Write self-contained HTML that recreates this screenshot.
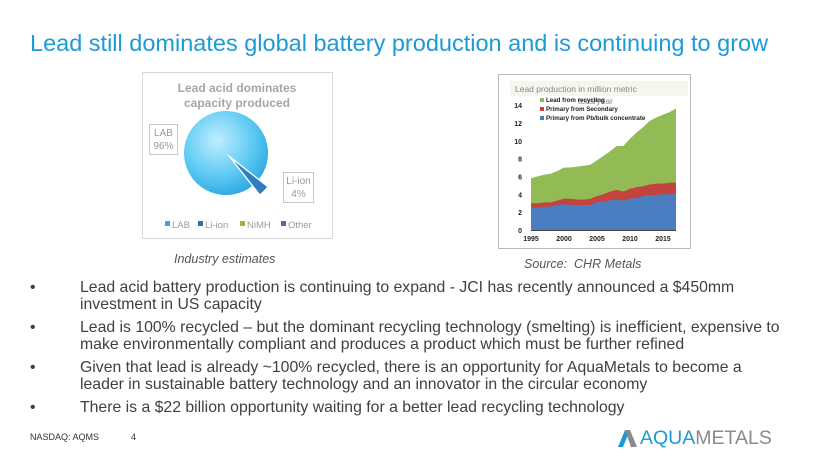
<!DOCTYPE html>
<html><head><meta charset="utf-8"><style>
body{margin:0;width:820px;height:460px;background:#fff;font-family:"Liberation Sans",sans-serif;position:relative;overflow:hidden}
.t{position:absolute;white-space:nowrap}
.b{position:absolute;left:30px;font-size:15.8px;color:#404040;line-height:17px;width:750px}
.b span{position:absolute;left:0}
.b div{margin-left:50px}
</style></head><body>
<div class="t" style="left:30px;top:30px;font-size:23.5px;color:#1c9ad6">Lead still dominates global battery production and is continuing to grow</div>

<svg style="position:absolute;left:0;top:0" width="820" height="460">
 <defs>
  <radialGradient id="pg" cx="0.4" cy="0.35" r="0.7"><stop offset="0" stop-color="#bfeeff"/><stop offset="0.6" stop-color="#5fcaf4"/><stop offset="1" stop-color="#2aa6e0"/></radialGradient>
 </defs>
 <rect x="142.5" y="72.5" width="190" height="166" fill="#fff" stroke="#d8d8d8"/>
 <text x="237" y="92" font-size="12" font-weight="bold" fill="#a6a6a6" text-anchor="middle">Lead acid dominates</text>
 <text x="237" y="107" font-size="12" font-weight="bold" fill="#a6a6a6" text-anchor="middle">capacity produced</text>
 <path d="M226,153 L259.1,178.9 A42,42 0 1 0 251.9,186.1 Z" fill="url(#pg)"/>
 <path d="M234,161 L267.1,186.9 A42,42 0 0 1 259.9,194.1 Z" fill="#2f7fc0"/>
 <rect x="149.5" y="124.5" width="28" height="30" fill="#fff" stroke="#c8c8c8"/>
 <text x="163.5" y="136" font-size="10" fill="#999" text-anchor="middle">LAB</text>
 <text x="163.5" y="149" font-size="10" fill="#999" text-anchor="middle">96%</text>
 <rect x="283.5" y="172.5" width="30" height="30" fill="#fff" stroke="#c8c8c8"/>
 <text x="298.5" y="184" font-size="10" fill="#999" text-anchor="middle">Li-ion</text>
 <text x="298.5" y="197" font-size="10" fill="#999" text-anchor="middle">4%</text>
 <g font-size="9.5" fill="#999">
  <rect x="165" y="221" width="5" height="5" fill="#3aa7e0"/><text x="172" y="228">LAB</text>
  <rect x="198" y="221" width="5" height="5" fill="#2f6fb0"/><text x="205" y="228">Li-ion</text>
  <rect x="240" y="221" width="5" height="5" fill="#8cbf40"/><text x="247" y="228">NiMH</text>
  <rect x="281" y="221" width="5" height="5" fill="#8050a8"/><text x="288" y="228">Other</text>
 </g>

 <rect x="498.5" y="74.5" width="192" height="174" fill="#fff" stroke="#bbb"/>
 <rect x="510" y="81" width="178" height="15" fill="#f6f6ee"/>
 <g transform="translate(531,230) scale(6.59,-8.93)">
  <polygon fill="#93bb55" points="0,0 0,5.8 1,6 2,6.2 3,6.3 4,6.6 5,7 6,7 7,7.1 8,7.2 9,7.3 10,7.8 11,8.3 12,8.8 13,9.4 14,9.4 15,10.2 16,10.9 17,11.5 18,12.2 19,12.6 20,12.9 21,13.2 22,13.6 22,0"/>
  <polygon fill="#c4433f" points="0,0 0,3 1,3 2,3.1 3,3.1 4,3.3 5,3.5 6,3.5 7,3.4 8,3.4 9,3.5 10,3.8 11,4 12,4.3 13,4.5 14,4.3 15,4.6 16,4.8 17,4.9 18,5.1 19,5.2 20,5.2 21,5.3 22,5.3 22,0"/>
  <polygon fill="#4a7ec0" points="0,0 0,2.5 1,2.5 2,2.6 3,2.6 4,2.8 5,2.9 6,2.8 7,2.8 8,2.8 9,2.8 10,3.1 11,3.2 12,3.3 13,3.4 14,3.3 15,3.5 16,3.6 17,3.8 18,3.9 19,3.9 20,4 21,4 22,4 22,0"/>
 </g>
 <line x1="531" y1="230.5" x2="676" y2="230.5" stroke="#444"/>
 <g font-size="7" font-weight="bold" fill="#222" text-anchor="end">
  <text x="522" y="233">0</text><text x="522" y="215">2</text><text x="522" y="197.5">4</text><text x="522" y="179.5">6</text><text x="522" y="161.5">8</text><text x="522" y="144">10</text><text x="522" y="126">12</text><text x="522" y="108">14</text>
 </g>
 <g font-size="7" font-weight="bold" fill="#222" text-anchor="middle">
  <text x="531" y="241">1995</text><text x="564" y="241">2000</text><text x="597" y="241">2005</text><text x="630" y="241">2010</text><text x="663" y="241">2015</text>
 </g>
 <text x="515" y="92" font-size="8.5" fill="#888">Lead production in million metric</text>
 <text x="578" y="104" font-size="8.5" fill="#888">tons/year</text>
 <g font-size="6.2" font-weight="bold" fill="#222">
  <rect x="540" y="98" width="4" height="4" fill="#93bb55"/><text x="546" y="102">Lead from recycling</text>
  <rect x="540" y="107" width="4" height="4" fill="#c4433f"/><text x="546" y="111">Primary from Secondary</text>
  <rect x="540" y="116" width="4" height="4" fill="#4a7ec0"/><text x="546" y="120">Primary from Pb/bulk concentrate</text>
 </g>
 <path d="M618,447 L625,430 L630,430 L623,447 Z" fill="#1c9ad6"/>
 <path d="M625,430 L630,430 L637,447 L631,447 Z" fill="#8a8a8a"/>
</svg>

<div class="t" style="left:174px;top:252px;font-size:12.5px;font-style:italic;color:#555">Industry estimates</div>
<div class="t" style="left:524px;top:257px;font-size:12.5px;font-style:italic;color:#555">Source:&nbsp; CHR Metals</div>

<div class="b" style="top:279px"><span>•</span><div>Lead acid battery production is continuing to expand - JCI has recently announced a $450mm investment in US capacity</div></div>
<div class="b" style="top:319px"><span>•</span><div>Lead is 100% recycled – but the dominant recycling technology (smelting) is inefficient, expensive to make environmentally compliant and produces a product which must be further refined</div></div>
<div class="b" style="top:359px"><span>•</span><div>Given that lead is already ~100% recycled, there is an opportunity for AquaMetals to become a leader in sustainable battery technology and an innovator in the circular economy</div></div>
<div class="b" style="top:399px"><span>•</span><div>There is a $22 billion opportunity waiting for a better lead recycling technology</div></div>

<div class="t" style="left:30px;top:432px;font-size:9px;color:#333">NASDAQ: AQMS</div>
<div class="t" style="left:131px;top:432px;font-size:9px;color:#333">4</div>
<div class="t" style="left:640px;top:427px;font-size:19.5px"><span style="color:#1c9ad6">AQUA</span><span style="color:#8a8a8a">METALS</span></div>
</body></html>
